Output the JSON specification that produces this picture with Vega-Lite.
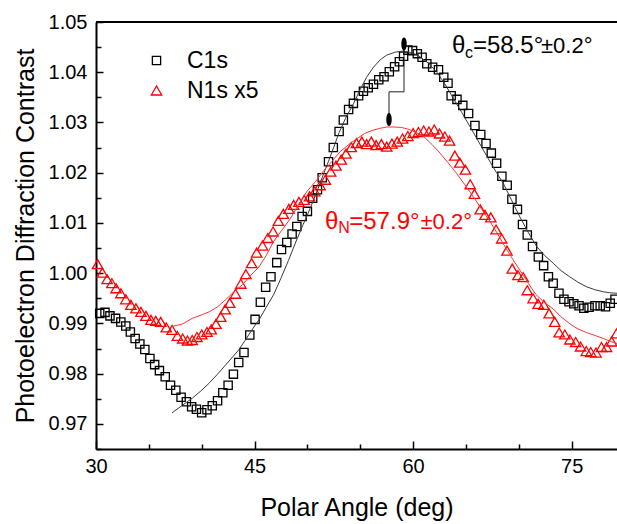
{
  "$schema": "https://vega.github.io/schema/vega-lite/v6.json",
  "width": 521,
  "height": 427,
  "autosize": {"type": "none"},
  "padding": {"left": 96, "top": 22, "right": 0, "bottom": 75},
  "background": "white",
  "config": {
    "view": {"stroke": null},
    "font": "Liberation Sans",
    "axis": {
      "labelFont": "Liberation Sans", "titleFont": "Liberation Sans",
      "labelFontSize": 20, "titleFontSize": 25, "titleFontWeight": "normal",
      "labelColor": "black", "titleColor": "black",
      "domainColor": "black", "domainWidth": 2,
      "tickColor": "black", "tickWidth": 1.5, "grid": false
    }
  },
  "resolve": {"axis": {"y": "independent"}},
  "datasets": {
    "points": [
      {"series":"C1s","angle":30.35,"contrast":0.9920},{"series":"C1s","angle":30.85,"contrast":0.9922},{"series":"C1s","angle":31.32,"contrast":0.9915},{"series":"C1s","angle":31.85,"contrast":0.9910},{"series":"C1s","angle":32.35,"contrast":0.9903},{"series":"C1s","angle":32.82,"contrast":0.9895},{"series":"C1s","angle":33.25,"contrast":0.9883},{"series":"C1s","angle":33.7,"contrast":0.9870},{"series":"C1s","angle":34.15,"contrast":0.9859},{"series":"C1s","angle":34.62,"contrast":0.9848},{"series":"C1s","angle":35.1,"contrast":0.9830},{"series":"C1s","angle":35.55,"contrast":0.9818},{"series":"C1s","angle":36.0,"contrast":0.9806},{"series":"C1s","angle":36.55,"contrast":0.9794},{"series":"C1s","angle":37.05,"contrast":0.9777},{"series":"C1s","angle":37.55,"contrast":0.9767},{"series":"C1s","angle":38.05,"contrast":0.9753},{"series":"C1s","angle":38.55,"contrast":0.9744},{"series":"C1s","angle":39.05,"contrast":0.9734},{"series":"C1s","angle":39.5,"contrast":0.9729},{"series":"C1s","angle":40.0,"contrast":0.9722},{"series":"C1s","angle":40.5,"contrast":0.9728},{"series":"C1s","angle":41.0,"contrast":0.9736},{"series":"C1s","angle":41.5,"contrast":0.9746},{"series":"C1s","angle":42.0,"contrast":0.9762},{"series":"C1s","angle":42.5,"contrast":0.9777},{"series":"C1s","angle":43.0,"contrast":0.9799},{"series":"C1s","angle":43.5,"contrast":0.9822},{"series":"C1s","angle":44.0,"contrast":0.9842},{"series":"C1s","angle":44.55,"contrast":0.9877},{"series":"C1s","angle":45.05,"contrast":0.9908},{"series":"C1s","angle":45.55,"contrast":0.9942},{"series":"C1s","angle":46.05,"contrast":0.9972},{"series":"C1s","angle":46.55,"contrast":0.9993},{"series":"C1s","angle":47.1,"contrast":1.0021},{"series":"C1s","angle":47.55,"contrast":1.0047},{"series":"C1s","angle":48.05,"contrast":1.0061},{"series":"C1s","angle":48.55,"contrast":1.0078},{"series":"C1s","angle":49.0,"contrast":1.0093},{"series":"C1s","angle":49.5,"contrast":1.0113},{"series":"C1s","angle":50.0,"contrast":1.0123},{"series":"C1s","angle":50.5,"contrast":1.0149},{"series":"C1s","angle":50.95,"contrast":1.0166},{"series":"C1s","angle":51.4,"contrast":1.0190},{"series":"C1s","angle":52.0,"contrast":1.0222},{"series":"C1s","angle":52.45,"contrast":1.0250},{"series":"C1s","angle":53.0,"contrast":1.0282},{"series":"C1s","angle":53.4,"contrast":1.0305},{"series":"C1s","angle":53.9,"contrast":1.0326},{"series":"C1s","angle":54.35,"contrast":1.0338},{"series":"C1s","angle":54.85,"contrast":1.0353},{"series":"C1s","angle":55.3,"contrast":1.0362},{"series":"C1s","angle":55.75,"contrast":1.0369},{"series":"C1s","angle":56.25,"contrast":1.0376},{"series":"C1s","angle":56.75,"contrast":1.0385},{"series":"C1s","angle":57.25,"contrast":1.0391},{"series":"C1s","angle":57.75,"contrast":1.0401},{"series":"C1s","angle":58.25,"contrast":1.0411},{"series":"C1s","angle":58.7,"contrast":1.0421},{"series":"C1s","angle":59.1,"contrast":1.0432},{"series":"C1s","angle":59.5,"contrast":1.0444},{"series":"C1s","angle":59.95,"contrast":1.0443},{"series":"C1s","angle":60.4,"contrast":1.0437},{"series":"C1s","angle":60.85,"contrast":1.0430},{"series":"C1s","angle":61.3,"contrast":1.0417},{"series":"C1s","angle":61.85,"contrast":1.0410},{"series":"C1s","angle":62.4,"contrast":1.0405},{"series":"C1s","angle":62.9,"contrast":1.0390},{"series":"C1s","angle":63.3,"contrast":1.0378},{"series":"C1s","angle":63.6,"contrast":1.0353},{"series":"C1s","angle":64.15,"contrast":1.0346},{"series":"C1s","angle":64.7,"contrast":1.0334},{"series":"C1s","angle":65.25,"contrast":1.0318},{"series":"C1s","angle":65.85,"contrast":1.0294},{"series":"C1s","angle":66.4,"contrast":1.0276},{"series":"C1s","angle":66.9,"contrast":1.0258},{"series":"C1s","angle":67.4,"contrast":1.0239},{"series":"C1s","angle":67.9,"contrast":1.0219},{"series":"C1s","angle":68.4,"contrast":1.0193},{"series":"C1s","angle":68.9,"contrast":1.0175},{"series":"C1s","angle":69.35,"contrast":1.0147},{"series":"C1s","angle":69.87,"contrast":1.0127},{"series":"C1s","angle":70.35,"contrast":1.0097},{"series":"C1s","angle":70.8,"contrast":1.0076},{"series":"C1s","angle":71.3,"contrast":1.0053},{"series":"C1s","angle":71.85,"contrast":1.0032},{"series":"C1s","angle":72.35,"contrast":1.0015},{"series":"C1s","angle":72.8,"contrast":0.9993},{"series":"C1s","angle":73.25,"contrast":0.9980},{"series":"C1s","angle":73.8,"contrast":0.9960},{"series":"C1s","angle":74.27,"contrast":0.9948},{"series":"C1s","angle":74.75,"contrast":0.9943},{"series":"C1s","angle":75.2,"contrast":0.9939},{"series":"C1s","angle":75.7,"contrast":0.9935},{"series":"C1s","angle":76.15,"contrast":0.9930},{"series":"C1s","angle":76.65,"contrast":0.9932},{"series":"C1s","angle":77.2,"contrast":0.9935},{"series":"C1s","angle":77.7,"contrast":0.9935},{"series":"C1s","angle":78.2,"contrast":0.9933},{"series":"C1s","angle":78.65,"contrast":0.9940},{"series":"C1s","angle":79.1,"contrast":0.9948},
      {"series":"N1s x5","angle":30.15,"contrast":1.0018},{"series":"N1s x5","angle":30.6,"contrast":1.0001},{"series":"N1s x5","angle":31.05,"contrast":0.9988},{"series":"N1s x5","angle":31.5,"contrast":0.9980},{"series":"N1s x5","angle":31.9,"contrast":0.9970},{"series":"N1s x5","angle":32.35,"contrast":0.9960},{"series":"N1s x5","angle":32.82,"contrast":0.9948},{"series":"N1s x5","angle":33.3,"contrast":0.9937},{"series":"N1s x5","angle":33.78,"contrast":0.9930},{"series":"N1s x5","angle":34.25,"contrast":0.9923},{"series":"N1s x5","angle":34.72,"contrast":0.9915},{"series":"N1s x5","angle":35.2,"contrast":0.9907},{"series":"N1s x5","angle":35.65,"contrast":0.9905},{"series":"N1s x5","angle":36.12,"contrast":0.9903},{"series":"N1s x5","angle":36.65,"contrast":0.9892},{"series":"N1s x5","angle":37.2,"contrast":0.9887},{"series":"N1s x5","angle":37.7,"contrast":0.9875},{"series":"N1s x5","angle":38.2,"contrast":0.9870},{"series":"N1s x5","angle":38.65,"contrast":0.9866},{"series":"N1s x5","angle":39.1,"contrast":0.9867},{"series":"N1s x5","angle":39.55,"contrast":0.9873},{"series":"N1s x5","angle":40.0,"contrast":0.9878},{"series":"N1s x5","angle":40.5,"contrast":0.9883},{"series":"N1s x5","angle":40.9,"contrast":0.9888},{"series":"N1s x5","angle":41.35,"contrast":0.9899},{"series":"N1s x5","angle":41.8,"contrast":0.9913},{"series":"N1s x5","angle":42.22,"contrast":0.9928},{"series":"N1s x5","angle":42.65,"contrast":0.9941},{"series":"N1s x5","angle":43.2,"contrast":0.9959},{"series":"N1s x5","angle":43.7,"contrast":0.9979},{"series":"N1s x5","angle":44.18,"contrast":0.9998},{"series":"N1s x5","angle":44.72,"contrast":1.0020},{"series":"N1s x5","angle":45.2,"contrast":1.0041},{"series":"N1s x5","angle":45.75,"contrast":1.0055},{"series":"N1s x5","angle":46.25,"contrast":1.0070},{"series":"N1s x5","angle":46.75,"contrast":1.0083},{"series":"N1s x5","angle":47.25,"contrast":1.0104},{"series":"N1s x5","angle":47.72,"contrast":1.0118},{"series":"N1s x5","angle":48.25,"contrast":1.0128},{"series":"N1s x5","angle":48.7,"contrast":1.0136},{"series":"N1s x5","angle":49.2,"contrast":1.0142},{"series":"N1s x5","angle":49.7,"contrast":1.0146},{"series":"N1s x5","angle":50.2,"contrast":1.0153},{"series":"N1s x5","angle":50.7,"contrast":1.0163},{"series":"N1s x5","angle":51.2,"contrast":1.0175},{"series":"N1s x5","angle":51.7,"contrast":1.0186},{"series":"N1s x5","angle":52.2,"contrast":1.0202},{"series":"N1s x5","angle":52.7,"contrast":1.0214},{"series":"N1s x5","angle":53.2,"contrast":1.0226},{"series":"N1s x5","angle":53.65,"contrast":1.0238},{"series":"N1s x5","angle":54.15,"contrast":1.0251},{"series":"N1s x5","angle":54.65,"contrast":1.0259},{"series":"N1s x5","angle":55.15,"contrast":1.0262},{"series":"N1s x5","angle":55.6,"contrast":1.0257},{"series":"N1s x5","angle":56.05,"contrast":1.0262},{"series":"N1s x5","angle":56.5,"contrast":1.0255},{"series":"N1s x5","angle":57.0,"contrast":1.0257},{"series":"N1s x5","angle":57.5,"contrast":1.0252},{"series":"N1s x5","angle":58.0,"contrast":1.0258},{"series":"N1s x5","angle":58.5,"contrast":1.0262},{"series":"N1s x5","angle":59.0,"contrast":1.0268},{"series":"N1s x5","angle":59.5,"contrast":1.0273},{"series":"N1s x5","angle":60.0,"contrast":1.0279},{"series":"N1s x5","angle":60.5,"contrast":1.0281},{"series":"N1s x5","angle":61.0,"contrast":1.0284},{"series":"N1s x5","angle":61.5,"contrast":1.0282},{"series":"N1s x5","angle":62.0,"contrast":1.0286},{"series":"N1s x5","angle":62.5,"contrast":1.0278},{"series":"N1s x5","angle":63.0,"contrast":1.0272},{"series":"N1s x5","angle":63.45,"contrast":1.0264},{"series":"N1s x5","angle":63.95,"contrast":1.0234},{"series":"N1s x5","angle":64.42,"contrast":1.0220},{"series":"N1s x5","angle":64.95,"contrast":1.0206},{"series":"N1s x5","angle":65.4,"contrast":1.0177},{"series":"N1s x5","angle":65.8,"contrast":1.0158},{"series":"N1s x5","angle":66.35,"contrast":1.0127},{"series":"N1s x5","angle":66.8,"contrast":1.0116},{"series":"N1s x5","angle":67.35,"contrast":1.0111},{"series":"N1s x5","angle":67.85,"contrast":1.0087},{"series":"N1s x5","angle":68.38,"contrast":1.0069},{"series":"N1s x5","angle":68.88,"contrast":1.0045},{"series":"N1s x5","angle":69.38,"contrast":1.0009},{"series":"N1s x5","angle":69.92,"contrast":0.9996},{"series":"N1s x5","angle":70.42,"contrast":0.9992},{"series":"N1s x5","angle":70.8,"contrast":0.9966},{"series":"N1s x5","angle":71.35,"contrast":0.9950},{"series":"N1s x5","angle":71.83,"contrast":0.9939},{"series":"N1s x5","angle":72.37,"contrast":0.9937},{"series":"N1s x5","angle":72.87,"contrast":0.9920},{"series":"N1s x5","angle":73.4,"contrast":0.9903},{"series":"N1s x5","angle":73.82,"contrast":0.9882},{"series":"N1s x5","angle":74.35,"contrast":0.9878},{"series":"N1s x5","angle":74.83,"contrast":0.9868},{"series":"N1s x5","angle":75.38,"contrast":0.9863},{"series":"N1s x5","angle":75.84,"contrast":0.9854},{"series":"N1s x5","angle":76.38,"contrast":0.9845},{"series":"N1s x5","angle":76.8,"contrast":0.9843},{"series":"N1s x5","angle":77.3,"contrast":0.9842},{"series":"N1s x5","angle":77.82,"contrast":0.9853},{"series":"N1s x5","angle":78.3,"contrast":0.9853},{"series":"N1s x5","angle":78.78,"contrast":0.9864},{"series":"N1s x5","angle":79.24,"contrast":0.9880}
    ],
    "c1sfit": [
      {"angle":37.2,"contrast":0.9722},{"angle":38.1,"contrast":0.9736},{"angle":39.1,"contrast":0.9751},{"angle":40.0,"contrast":0.9767},{"angle":40.7,"contrast":0.9781},{"angle":41.5,"contrast":0.9799},{"angle":42.25,"contrast":0.9817},{"angle":43.0,"contrast":0.9835},{"angle":43.5,"contrast":0.9847},{"angle":44.1,"contrast":0.9866},{"angle":44.75,"contrast":0.9887},{"angle":45.5,"contrast":0.9910},{"angle":46.1,"contrast":0.9932},{"angle":46.8,"contrast":0.9957},{"angle":47.5,"contrast":0.9990},{"angle":48.2,"contrast":1.0025},{"angle":48.9,"contrast":1.0062},{"angle":49.6,"contrast":1.0097},{"angle":50.3,"contrast":1.0131},{"angle":51.0,"contrast":1.0168},{"angle":51.5,"contrast":1.0196},{"angle":52.0,"contrast":1.0223},{"angle":52.5,"contrast":1.0251},{"angle":53.0,"contrast":1.0280},{"angle":53.6,"contrast":1.0308},{"angle":54.35,"contrast":1.0337},{"angle":55.0,"contrast":1.0366},{"angle":55.6,"contrast":1.0390},{"angle":56.25,"contrast":1.0410},{"angle":56.9,"contrast":1.0425},{"angle":57.5,"contrast":1.0434},{"angle":58.3,"contrast":1.0440},{"angle":59.0,"contrast":1.0442},{"angle":59.6,"contrast":1.0440},{"angle":60.2,"contrast":1.0436},{"angle":60.7,"contrast":1.0430},{"angle":61.45,"contrast":1.0418},{"angle":62.25,"contrast":1.0400},{"angle":63.0,"contrast":1.0377},{"angle":63.8,"contrast":1.0348},{"angle":64.6,"contrast":1.0320},{"angle":65.4,"contrast":1.0291},{"angle":66.0,"contrast":1.0269},{"angle":66.65,"contrast":1.0245},{"angle":67.3,"contrast":1.0221},{"angle":67.9,"contrast":1.0200},{"angle":68.55,"contrast":1.0178},{"angle":69.3,"contrast":1.0146},{"angle":70.1,"contrast":1.0112},{"angle":70.9,"contrast":1.0081},{"angle":71.7,"contrast":1.0053},{"angle":72.45,"contrast":1.0035},{"angle":73.25,"contrast":1.0020},{"angle":74.0,"contrast":1.0005},{"angle":74.8,"contrast":0.9993},{"angle":75.6,"contrast":0.9982},{"angle":76.4,"contrast":0.9973},{"angle":77.2,"contrast":0.9967},{"angle":78.0,"contrast":0.9963},{"angle":78.6,"contrast":0.9961},{"angle":79.3,"contrast":0.9960}
    ],
    "n1sfit": [
      {"angle":37.2,"contrast":0.9894},{"angle":38.2,"contrast":0.9899},{"angle":39.1,"contrast":0.9910},{"angle":40.0,"contrast":0.9917},{"angle":40.7,"contrast":0.9923},{"angle":41.5,"contrast":0.9933},{"angle":42.25,"contrast":0.9947},{"angle":43.0,"contrast":0.9962},{"angle":43.85,"contrast":0.9977},{"angle":44.6,"contrast":0.9995},{"angle":45.4,"contrast":1.0012},{"angle":46.1,"contrast":1.0035},{"angle":46.8,"contrast":1.0063},{"angle":47.6,"contrast":1.0086},{"angle":48.4,"contrast":1.0109},{"angle":49.2,"contrast":1.0138},{"angle":49.96,"contrast":1.0163},{"angle":50.76,"contrast":1.0182},{"angle":51.53,"contrast":1.0204},{"angle":52.3,"contrast":1.0222},{"angle":53.1,"contrast":1.0242},{"angle":53.9,"contrast":1.0256},{"angle":54.7,"contrast":1.0268},{"angle":55.4,"contrast":1.0278},{"angle":56.1,"contrast":1.0284},{"angle":56.8,"contrast":1.0288},{"angle":57.5,"contrast":1.0291},{"angle":58.2,"contrast":1.0291},{"angle":58.9,"contrast":1.0290},{"angle":59.5,"contrast":1.0287},{"angle":60.2,"contrast":1.0281},{"angle":61.0,"contrast":1.0272},{"angle":61.8,"contrast":1.0256},{"angle":62.55,"contrast":1.0239},{"angle":63.3,"contrast":1.0220},{"angle":64.1,"contrast":1.0199},{"angle":64.9,"contrast":1.0176},{"angle":65.7,"contrast":1.0152},{"angle":66.5,"contrast":1.0127},{"angle":67.3,"contrast":1.0102},{"angle":68.0,"contrast":1.0078},{"angle":68.6,"contrast":1.0056},{"angle":69.3,"contrast":1.0032},{"angle":70.1,"contrast":1.0006},{"angle":70.9,"contrast":0.9980},{"angle":71.6,"contrast":0.9958},{"angle":72.4,"contrast":0.9942},{"angle":73.25,"contrast":0.9929},{"angle":74.0,"contrast":0.9913},{"angle":74.9,"contrast":0.9898},{"angle":75.6,"contrast":0.9889},{"angle":76.4,"contrast":0.9882},{"angle":77.2,"contrast":0.9876},{"angle":78.0,"contrast":0.9870},{"angle":78.7,"contrast":0.9864},{"angle":79.3,"contrast":0.9860}
    ],
    "bracket": [
      {"angle":59.14,"contrast":1.0456,"step":1},{"angle":59.14,"contrast":1.0361,"step":2},{"angle":57.72,"contrast":1.0361,"step":3},{"angle":57.72,"contrast":1.0306,"step":4}
    ],
    "ends": [
      {"angle":59.14,"contrast":1.0456},{"angle":57.72,"contrast":1.0306}
    ]
  },
  "layer": [
    {
      "data": {"name": "points"},
      "mark": {"type": "point", "filled": false, "strokeWidth": 1.3, "opacity": 1},
      "encoding": {
        "x": {"field": "angle", "type": "quantitative",
          "scale": {"domain": [30, 79.29], "nice": false, "zero": false},
          "axis": {"title": "Polar Angle (deg)", "values": [30,35,40,45,50,55,60,65,70,75],
            "labelExpr": "datum.value % 15 === 0 ? datum.label : ''",
            "tickSize": {"condition": {"test": "datum.value % 15 === 0", "value": -8}, "value": -5},
            "labelPadding": 15, "titlePadding": 19, "labelFlush": false}},
        "y": {"field": "contrast", "type": "quantitative",
          "scale": {"domain": [0.965, 1.05], "nice": false, "zero": false},
          "axis": {"title": "Photoelectron Diffraction Contrast", "orient": "left",
            "values": [0.97,0.98,0.99,1.0,1.01,1.02,1.03,1.04,1.05],
            "format": ".2f", "tickSize": -7,
            "labelPadding": 16, "titlePadding": 10, "labelOverlap": false, "labelFlush": false}},
        "color": {"field": "series", "type": "nominal",
          "scale": {"domain": ["C1s", "N1s x5"], "range": ["#000000", "#ff0000"]},
          "legend": {"orient": "none", "legendX": 49, "legendY": 27, "title": null,
            "labelFont": "Liberation Sans", "labelFontSize": 23, "labelColor": "black",
            "symbolSize": 81, "symbolStrokeWidth": 1.3, "labelOffset": 19, "rowPadding": 6, "padding": 0}},
        "shape": {"field": "series", "type": "nominal",
          "scale": {"domain": ["C1s", "N1s x5"], "range": ["square", "triangle-up"]}},
        "size": {"field": "series", "type": "nominal",
          "scale": {"domain": ["C1s", "N1s x5"], "range": [68, 108]}, "legend": null}
      }
    },
    {
      "data": {"name": "c1sfit"},
      "mark": {"type": "line", "color": "#3a3a3a", "strokeWidth": 1},
      "encoding": {
        "x": {"field": "angle", "type": "quantitative"},
        "y": {"field": "contrast", "type": "quantitative",
          "axis": {"orient": "left", "values": [0.965,0.975,0.985,0.995,1.005,1.015,1.025,1.035,1.045],
            "labels": false, "domain": false, "title": null, "tickSize": -5}}
      }
    },
    {
      "data": {"name": "n1sfit"},
      "mark": {"type": "line", "color": "#ff3333", "strokeWidth": 1},
      "encoding": {
        "x": {"field": "angle", "type": "quantitative"},
        "y": {"field": "contrast", "type": "quantitative", "axis": null}
      }
    },
    {
      "data": {"name": "bracket"},
      "mark": {"type": "line", "color": "#222222", "strokeWidth": 1},
      "encoding": {
        "x": {"field": "angle", "type": "quantitative"},
        "y": {"field": "contrast", "type": "quantitative", "axis": null},
        "order": {"field": "step", "type": "quantitative"}
      }
    },
    {
      "data": {"name": "ends"},
      "mark": {"type": "point", "filled": true, "color": "black", "opacity": 1, "size": 169,
        "shape": "M0,-1 C0.55,-1 0.55,1 0,1 C-0.55,1 -0.55,-1 0,-1 Z"},
      "encoding": {
        "x": {"field": "angle", "type": "quantitative"},
        "y": {"field": "contrast", "type": "quantitative", "axis": null}
      }
    },
    {
      "data": {"values": [{}]},
      "mark": {"type": "rule", "color": "black", "strokeWidth": 2},
      "encoding": {"y": {"datum": 1.05, "type": "quantitative", "axis": null}}
    },
    {
      "data": {"values": [{"angle": 63.68, "contrast": 1.04377, "label": "θ"}, {"angle": 65.66, "contrast": 1.04377, "label": "=58.5°"}]},
      "mark": {"type": "text", "align": "left", "baseline": "alphabetic", "fontSize": 24, "color": "black", "font": "Liberation Sans"},
      "encoding": {"x": {"field": "angle", "type": "quantitative"}, "y": {"field": "contrast", "type": "quantitative", "axis": null}, "text": {"field": "label"}}
    },
    {
      "data": {"values": [{"angle": 64.91, "contrast": 1.04277, "label": "c"}]},
      "mark": {"type": "text", "align": "left", "baseline": "alphabetic", "fontSize": 16, "color": "black", "font": "Liberation Sans"},
      "encoding": {"x": {"field": "angle", "type": "quantitative"}, "y": {"field": "contrast", "type": "quantitative", "axis": null}, "text": {"field": "label"}}
    },
    {
      "data": {"values": [{"angle": 72.1, "contrast": 1.04377, "label": "±0.2°"}]},
      "mark": {"type": "text", "align": "left", "baseline": "alphabetic", "fontSize": 22, "color": "black", "font": "Liberation Sans"},
      "encoding": {"x": {"field": "angle", "type": "quantitative"}, "y": {"field": "contrast", "type": "quantitative", "axis": null}, "text": {"field": "label"}}
    },
    {
      "data": {"values": [{"angle": 51.66, "contrast": 1.00889, "label": "θ"}, {"angle": 53.96, "contrast": 1.00889, "label": "=57.9°"}]},
      "mark": {"type": "text", "align": "left", "baseline": "alphabetic", "fontSize": 24, "color": "#ff0000", "font": "Liberation Sans"},
      "encoding": {"x": {"field": "angle", "type": "quantitative"}, "y": {"field": "contrast", "type": "quantitative", "axis": null}, "text": {"field": "label"}}
    },
    {
      "data": {"values": [{"angle": 52.92, "contrast": 1.00793, "label": "N"}]},
      "mark": {"type": "text", "align": "left", "baseline": "alphabetic", "fontSize": 16, "color": "#ff0000", "font": "Liberation Sans"},
      "encoding": {"x": {"field": "angle", "type": "quantitative"}, "y": {"field": "contrast", "type": "quantitative", "axis": null}, "text": {"field": "label"}}
    },
    {
      "data": {"values": [{"angle": 60.7, "contrast": 1.00889, "label": "±0.2°"}]},
      "mark": {"type": "text", "align": "left", "baseline": "alphabetic", "fontSize": 22, "color": "#ff0000", "font": "Liberation Sans"},
      "encoding": {"x": {"field": "angle", "type": "quantitative"}, "y": {"field": "contrast", "type": "quantitative", "axis": null}, "text": {"field": "label"}}
    }
  ]
}
